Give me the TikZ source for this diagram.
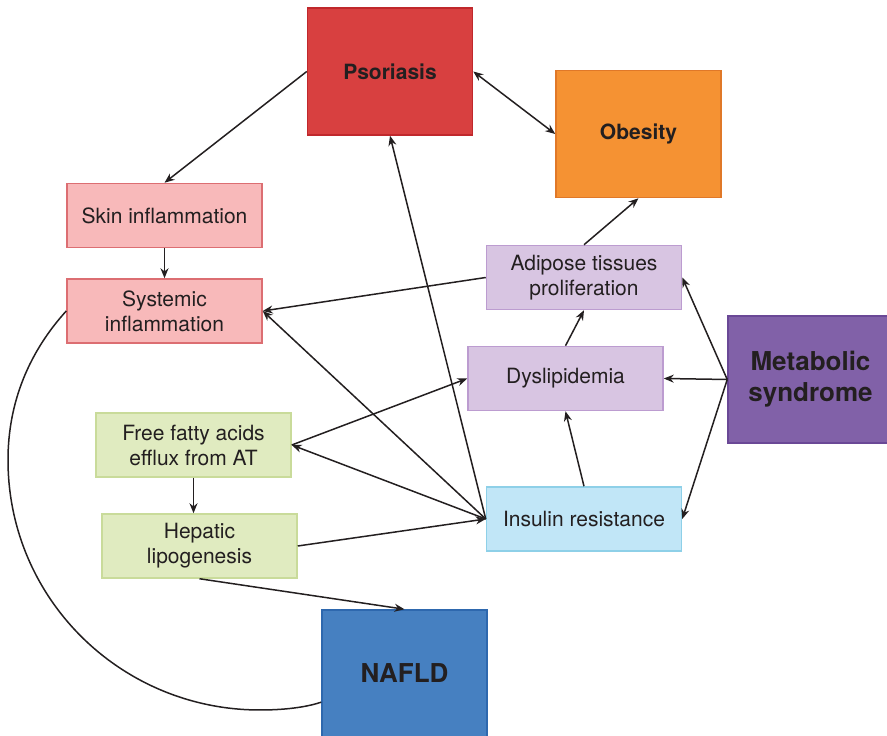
\documentclass[tikz,border=0pt]{standalone}
\usepackage{fontspec}
\setmainfont{TeX Gyre Heros}
\usepackage{xcolor}
\usepackage{tikz}
\usetikzlibrary{arrows.meta,positioning}

\definecolor{inkgray}{HTML}{231F20}
\definecolor{psofill}{HTML}{D84040}
\definecolor{psoline}{HTML}{C0282C}
\definecolor{obefill}{HTML}{F59233}
\definecolor{obeline}{HTML}{E07828}
\definecolor{pinkfill}{HTML}{F8B9BA}
\definecolor{pinkline}{HTML}{DC6E72}
\definecolor{lilacfill}{HTML}{D8C5E2}
\definecolor{lilacline}{HTML}{BC9CD0}
\definecolor{metfill}{HTML}{8161A8}
\definecolor{metline}{HTML}{6A4896}
\definecolor{greenfill}{HTML}{E0EBC0}
\definecolor{greenline}{HTML}{C9DB9A}
\definecolor{cyanfill}{HTML}{C1E6F7}
\definecolor{cyanline}{HTML}{8ED0E8}
\definecolor{naffill}{HTML}{4680C1}
\definecolor{nafline}{HTML}{2E68AE}

\begin{document}
\begin{tikzpicture}[x=1pt, y=1pt,
    box/.style={draw, rectangle, line width=1.5pt, minimum width=195pt, minimum height=64pt, inner sep=0pt, align=center, text=inkgray, font=\fontsize{21}{25}\selectfont},
    bigbox/.style={draw, rectangle, line width=1.5pt, minimum width=165pt, minimum height=127pt, inner sep=0pt, align=center, text=inkgray, font=\fontsize{21}{25}\selectfont\bfseries},
    link/.style={-{Stealth[length=10pt, width=8pt]}, line width=1.5pt, draw=inkgray}]
    \clip (0,0) rectangle (887,736);

    \node (pso) [bigbox, fill=psofill, draw=psoline] at (390,664.5) {Psoriasis};
    \node (obe) [bigbox, fill=obefill, draw=obeline] at (638.5,602) {Obesity};
    \node (met) [bigbox, fill=metfill, draw=metline, font=\fontsize{26}{31}\selectfont\bfseries] at (810.5,356.5) {Metabolic\\syndrome};
    \node (naf) [bigbox, fill=naffill, draw=nafline, font=\fontsize{26}{31}\selectfont\bfseries] at (404.5,62.5) {NAFLD};

    \node (skin) [box, fill=pinkfill, draw=pinkline] at (164.5,520.5) {Skin inflammation};
    \node (sys) [box, below=30pt of skin, fill=pinkfill, draw=pinkline] {Systemic\\inflammation};

    \node (adi) [box, fill=lilacfill, draw=lilacline] at (584,458.5) {Adipose tissues\\proliferation};
    \node (dys) [box, fill=lilacfill, draw=lilacline] at (565.5,357.5) {Dyslipidemia};
    \node (ins) [box, fill=cyanfill, draw=cyanline] at (584,217) {Insulin resistance};

    \node (ffa) [box, fill=greenfill, draw=greenline] at (193.5,291) {Free fatty acids\\efflux from AT};
    \node (hep) [box, fill=greenfill, draw=greenline] at (199.5,190) {Hepatic\\lipogenesis};

    % psoriasis side
    \draw[link] (pso.west) -- (skin.north);
    \draw[link, {Stealth[length=10pt, width=8pt]}-{Stealth[length=10pt, width=8pt]}] (pso.east) -- (obe.west);
    \draw[link] (skin.south) -- (sys.north);
    \draw[link] (adi.west) -- (sys.east);
    \draw[link] (ins.west) -- (sys.east);
    \draw[link] (ins.west) -- (pso.south);

    % metabolic syndrome
    \draw[link] (met.west) -- (adi.east);
    \draw[link] (met.west) -- (dys.east);
    \draw[link] (met.west) -- (ins.east);
    \draw[link] (ins.north) -- (dys.south);
    \draw[link] (dys.north) -- (adi.south);
    \draw[link] (adi.north) -- (obe.south);

    % liver side
    \draw[link] (ins.west) -- (ffa.east);
    \draw[link] (ffa.east) -- (dys.west);
    \draw[link] (ffa.south) -- (ffa.south |- hep.north);
    \draw[link] (hep.east) -- (ins.west);
    \draw[link] (hep.south) -- (naf.north);

    \draw[line width=1.5pt, draw=inkgray] (sys.west) .. controls (30,385) and (8,335) .. (8,276)
        .. controls (8,137) and (121,26) .. (260,26) .. controls (290,26) and (310,30) .. (naf.199);
\end{tikzpicture}
\end{document}
